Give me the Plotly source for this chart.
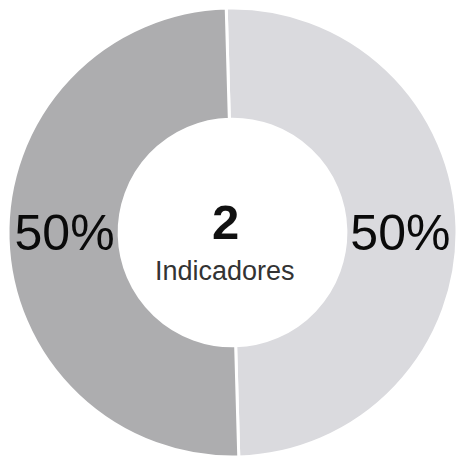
import plotly.graph_objects as go

# Indicator groups and their counts
categories = ["Grupo A", "Grupo B"]
values = [1, 1]
slice_colors = ["#dadade", "#adadaf"]
center_caption = "Indicadores"

total_indicators = sum(values)

fig = go.Figure(
    go.Pie(
        labels=categories,
        values=values,
        hole=0.505,
        sort=False,
        direction="clockwise",
        rotation=-1.6,
        marker=dict(colors=slice_colors, line=dict(color="white", width=3)),
        textinfo="percent",
        texttemplate="%{percent:.0%}",
        textposition="inside",
        insidetextorientation="horizontal",
        textfont=dict(family="Arial, Liberation Sans, sans-serif", size=50, color="#0a0a0a"),
        showlegend=False,
        hoverinfo="label+value+percent",
    )
)

# Center summary: number of indicators and caption
fig.add_annotation(
    x=0.484, y=0.523, xref="paper", yref="paper",
    text=f"<b>{total_indicators}</b>",
    showarrow=False,
    font=dict(family="Arial, Liberation Sans, sans-serif", size=49, color="#111111"),
)
fig.add_annotation(
    x=0.484, y=0.416, xref="paper", yref="paper",
    text=center_caption,
    showarrow=False,
    font=dict(family="Arial, Liberation Sans, sans-serif", size=27, color="#333333"),
)

fig.update_layout(
    width=459,
    height=465,
    margin=dict(l=8, r=2, t=2, b=2),
    paper_bgcolor="white",
    plot_bgcolor="white",
    uniformtext=dict(minsize=50, mode="show"),
)

fig.write_html("out.html")
